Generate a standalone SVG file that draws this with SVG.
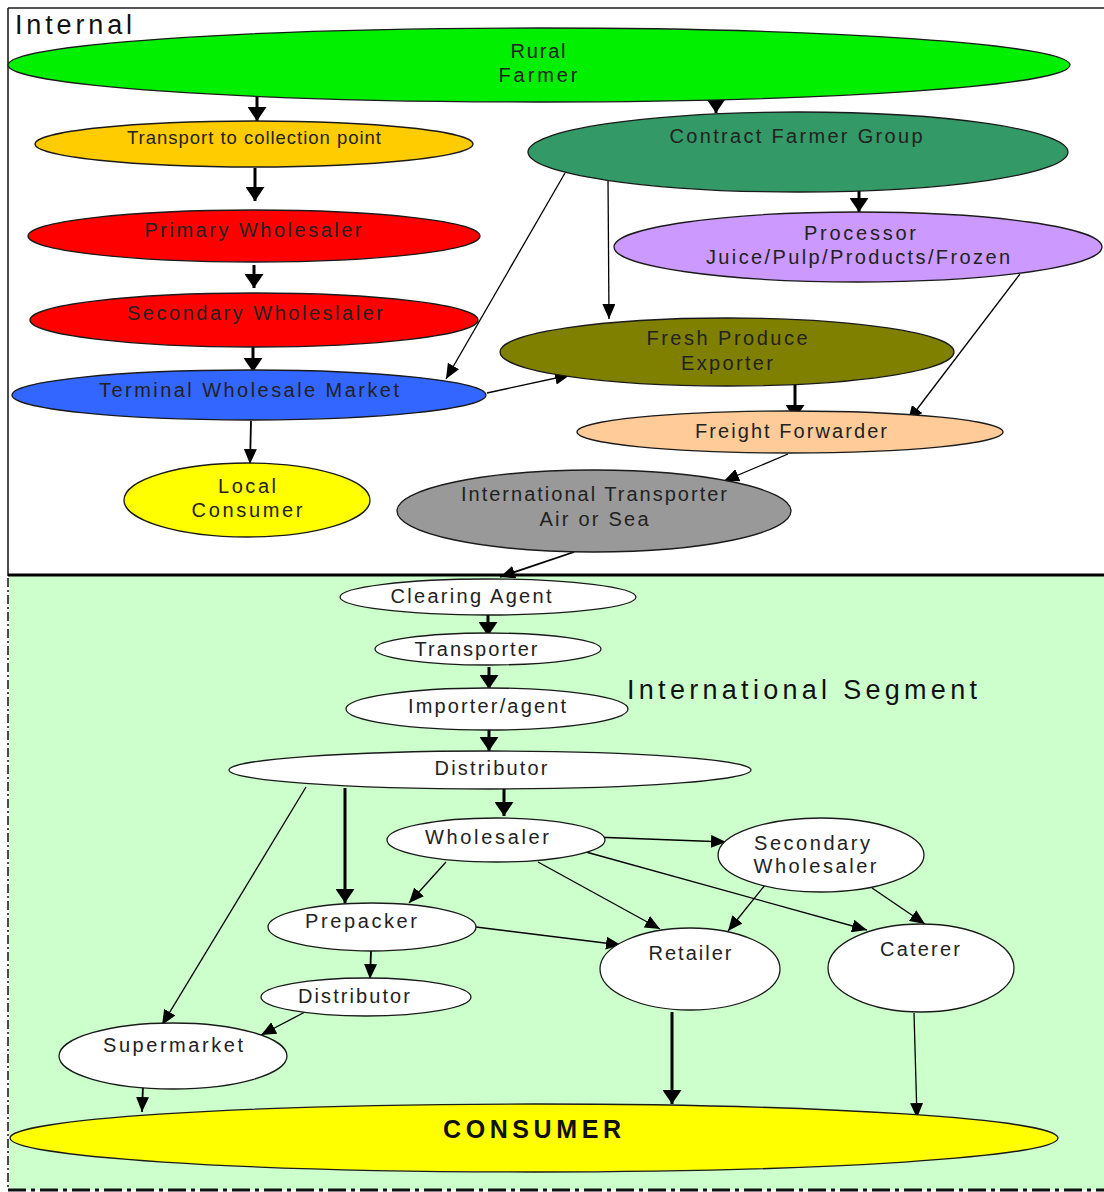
<svg xmlns="http://www.w3.org/2000/svg" width="1104" height="1192" viewBox="0 0 1104 1192">
<style>
text{font-family:"Liberation Sans",Arial,sans-serif;font-size:20px;text-anchor:middle;fill:#222}
.n{stroke:#1a1a1a;stroke-width:1.3}
.w{fill:#ffffff}
.thick{stroke:#000;stroke-width:3;fill:none;marker-end:url(#ah)}
.thin{stroke:#000;stroke-width:1.3;fill:none;marker-end:url(#ahs)}
.mid{stroke:#000;stroke-width:1.8;fill:none;marker-end:url(#ahs)}
text.title{font-size:27px;text-anchor:start;fill:#111}
text.small{font-size:18.5px}
text.big{font-size:25px;font-weight:bold;fill:#111}
</style>
<defs>
<marker id="ah" markerUnits="userSpaceOnUse" markerWidth="14" markerHeight="19" refX="14" refY="9.5" orient="auto"><path d="M0,0 L14,9.5 L0,19 z" fill="#000"/></marker>
<marker id="ahs" markerUnits="userSpaceOnUse" markerWidth="15" markerHeight="13" refX="15" refY="6.5" orient="auto"><path d="M0,0 L15,6.5 L0,13 z" fill="#000"/></marker>
</defs>
<g id="frame">
<rect x="0" y="0" width="1104" height="1192" fill="#ffffff"/>
<rect x="9" y="576" width="1095" height="614" fill="#ccffcc"/>
<line x1="8" y1="8" x2="1104" y2="8" stroke="#555" stroke-width="2"/>
<line x1="8" y1="8" x2="8" y2="576" stroke="#111" stroke-width="1.5"/>
<line x1="8" y1="578" x2="8" y2="1190" stroke="#111" stroke-width="1.5" stroke-dasharray="9,3,2,3"/>
<line x1="8" y1="1190" x2="1104" y2="1190" stroke="#111" stroke-width="3" stroke-dasharray="18,5,4,5"/>
<line x1="8" y1="575" x2="1104" y2="575" stroke="#000" stroke-width="3"/>
<text class="title" x="15" y="34" textLength="117" lengthAdjust="spacing">Internal</text>
<text class="title" x="627" y="699" textLength="350" lengthAdjust="spacing">International Segment</text>
</g>
<g id="connectors">
<line class="thick" x1="257" y1="94" x2="257" y2="121"/>
<line class="thick" x1="716" y1="97" x2="716" y2="113"/>
<line class="thick" x1="255" y1="168" x2="255" y2="201"/>
<line class="thick" x1="254" y1="265" x2="254" y2="288"/>
<line class="thick" x1="253" y1="347" x2="253" y2="372"/>
<line class="mid" x1="251" y1="421" x2="250" y2="464"/>
<line class="thin" x1="565" y1="173" x2="446" y2="379"/>
<line class="thin" x1="608" y1="178" x2="609" y2="319"/>
<line class="thick" x1="859" y1="188" x2="859" y2="212"/>
<line class="thin" x1="487" y1="393" x2="570" y2="375"/>
<line class="thick" x1="795" y1="381" x2="795" y2="419"/>
<line class="thin" x1="1020" y1="274" x2="908" y2="421"/>
<line class="thin" x1="788" y1="454" x2="724" y2="481"/>
<line class="mid" x1="574" y1="552" x2="500" y2="577"/>
<line class="thick" x1="488" y1="614" x2="488" y2="636"/>
<line class="thick" x1="489" y1="667" x2="489" y2="689"/>
<line class="thick" x1="489" y1="728" x2="489" y2="751"/>
<line class="thick" x1="504" y1="789" x2="504" y2="816"/>
<line class="thin" x1="306" y1="787" x2="162" y2="1025"/>
<line class="thick" x1="345" y1="788" x2="345" y2="903"/>
<line class="thin" x1="446" y1="862" x2="409" y2="903"/>
<line class="thin" x1="594" y1="837" x2="726" y2="842"/>
<line class="thin" x1="538" y1="862" x2="660" y2="929"/>
<line class="thin" x1="586" y1="852" x2="867" y2="930"/>
<line class="thin" x1="765" y1="885" x2="728" y2="931"/>
<line class="thin" x1="872" y1="888" x2="925" y2="924"/>
<line class="thin" x1="476" y1="927" x2="621" y2="945"/>
<line class="mid" x1="371" y1="951" x2="370" y2="979"/>
<line class="thin" x1="305" y1="1012" x2="261" y2="1035"/>
<line class="mid" x1="143" y1="1085" x2="142" y2="1112"/>
<line class="thick" x1="672" y1="1012" x2="672" y2="1104"/>
<line class="thin" x1="914" y1="1013" x2="917" y2="1118"/>
</g>
<g id="rural-farmer">
<ellipse class="n" cx="539" cy="65" rx="531" ry="37" fill="#00f000"/>
<text x="538" y="58" fill="#2a5a2a" textLength="55" lengthAdjust="spacing">Rural</text>
<text x="538" y="82" fill="#2a5a2a" textLength="79" lengthAdjust="spacing">Farmer</text>
</g>
<g id="transport-collection">
<ellipse class="n" cx="254" cy="144" rx="219" ry="23" fill="#ffcc00"/>
<text class="small" x="254" y="144" fill="#4a3300" textLength="254" lengthAdjust="spacing">Transport to collection point</text>
</g>
<g id="primary-wholesaler">
<ellipse class="n" cx="254" cy="236" rx="226" ry="26" fill="#ff0000"/>
<text x="253" y="237" fill="#6a0000" textLength="217" lengthAdjust="spacing">Primary Wholesaler</text>
</g>
<g id="secondary-wholeslaler">
<ellipse class="n" cx="254" cy="320" rx="224" ry="27" fill="#ff0000"/>
<text x="255" y="320" fill="#6a0000" textLength="256" lengthAdjust="spacing">Secondary Wholeslaler</text>
</g>
<g id="terminal-market">
<ellipse class="n" cx="249" cy="395" rx="237" ry="25" fill="#3366ff"/>
<text x="249" y="397" fill="#0c1a4a" textLength="300" lengthAdjust="spacing">Terminal Wholesale Market</text>
</g>
<g id="local-consumer">
<ellipse class="n" cx="247" cy="500" rx="123" ry="37" fill="#ffff00"/>
<text x="247" y="493" fill="#333300" textLength="58" lengthAdjust="spacing">Local</text>
<text x="247" y="517" fill="#333300" textLength="111" lengthAdjust="spacing">Consumer</text>
</g>
<g id="contract-farmer">
<ellipse class="n" cx="798" cy="152" rx="270" ry="40" fill="#339966"/>
<text x="796" y="143" fill="#0e2e1e" textLength="253" lengthAdjust="spacing">Contract Farmer Group</text>
</g>
<g id="processor">
<ellipse class="n" cx="858" cy="247" rx="244" ry="35" fill="#cc99ff"/>
<text x="860" y="240" fill="#33264a" textLength="112" lengthAdjust="spacing">Processor</text>
<text x="858" y="264" fill="#33264a" textLength="304" lengthAdjust="spacing">Juice/Pulp/Products/Frozen</text>
</g>
<g id="fresh-exporter">
<ellipse class="n" cx="727" cy="352" rx="227" ry="34" fill="#808000"/>
<text x="727" y="345" fill="#1e1e00" textLength="161" lengthAdjust="spacing">Fresh Produce</text>
<text x="727" y="370" fill="#1e1e00" textLength="92" lengthAdjust="spacing">Exporter</text>
</g>
<g id="freight-forwarder">
<ellipse class="n" cx="790" cy="432" rx="213" ry="21" fill="#ffcc99"/>
<text x="791" y="438" fill="#2e2418" textLength="192" lengthAdjust="spacing">Freight Forwarder</text>
</g>
<g id="international-transporter">
<ellipse class="n" cx="594" cy="511" rx="197" ry="41" fill="#999999"/>
<text x="594" y="501" fill="#262626" textLength="266" lengthAdjust="spacing">International Transporter</text>
<text x="594" y="526" fill="#262626" textLength="109" lengthAdjust="spacing">Air or Sea</text>
</g>
<g id="clearing-agent">
<ellipse class="n w" cx="488" cy="597" rx="148" ry="18"/>
<text x="471" y="603" textLength="161" lengthAdjust="spacing">Clearing Agent</text>
</g>
<g id="transporter">
<ellipse class="n w" cx="488" cy="649" rx="113" ry="16"/>
<text x="476" y="656" textLength="123" lengthAdjust="spacing">Transporter</text>
</g>
<g id="importer-agent">
<ellipse class="n w" cx="487" cy="709" rx="141" ry="21"/>
<text x="487" y="713" textLength="158" lengthAdjust="spacing">Importer/agent</text>
</g>
<g id="distributor">
<ellipse class="n w" cx="490" cy="770" rx="261" ry="19"/>
<text x="491" y="775" textLength="113" lengthAdjust="spacing">Distributor</text>
</g>
<g id="wholesaler">
<ellipse class="n w" cx="496" cy="840" rx="109" ry="22"/>
<text x="487" y="844" textLength="124" lengthAdjust="spacing">Wholesaler</text>
</g>
<g id="secondary-wholesaler">
<ellipse class="n w" cx="821" cy="855" rx="103" ry="37"/>
<text x="812" y="850" textLength="116" lengthAdjust="spacing">Secondary</text>
<text x="815" y="873" textLength="123" lengthAdjust="spacing">Wholesaler</text>
</g>
<g id="prepacker">
<ellipse class="n w" cx="372" cy="927" rx="104" ry="24"/>
<text x="361" y="928" textLength="112" lengthAdjust="spacing">Prepacker</text>
</g>
<g id="distributor-2">
<ellipse class="n w" cx="366" cy="997" rx="105" ry="19"/>
<text x="354" y="1003" textLength="112" lengthAdjust="spacing">Distributor</text>
</g>
<g id="supermarket">
<ellipse class="n w" cx="173" cy="1056" rx="114" ry="33"/>
<text x="173" y="1052" textLength="140" lengthAdjust="spacing">Supermarket</text>
</g>
<g id="retailer">
<ellipse class="n w" cx="690" cy="969" rx="90" ry="41"/>
<text x="690" y="960" textLength="83" lengthAdjust="spacing">Retailer</text>
</g>
<g id="caterer">
<ellipse class="n w" cx="921" cy="968" rx="93" ry="44"/>
<text x="920" y="956" textLength="80" lengthAdjust="spacing">Caterer</text>
</g>
<g id="consumer">
<ellipse class="n" cx="534" cy="1138" rx="524" ry="34" fill="#ffff00"/>
<text class="big" x="532" y="1138" textLength="178" lengthAdjust="spacing">CONSUMER</text>
</g>
</svg>
